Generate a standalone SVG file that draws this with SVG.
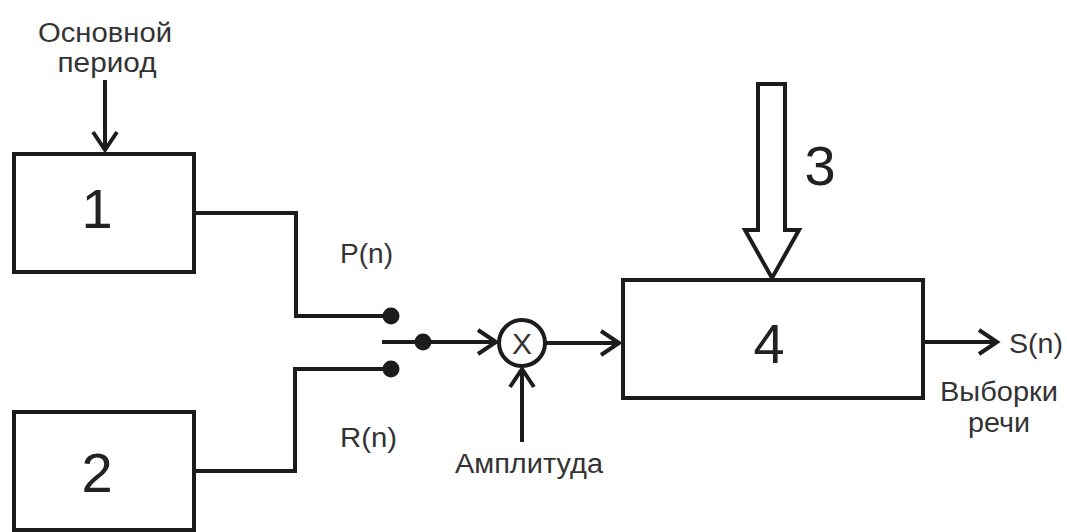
<svg xmlns="http://www.w3.org/2000/svg" width="1067" height="532" viewBox="0 0 1067 532">
<style>
.ln{fill:none;stroke:#1c1c1c;stroke-width:4;stroke-linejoin:miter}
.box{fill:#fff;stroke:#1c1c1c;stroke-width:4}
.lbl{font-family:"Liberation Sans",Arial,sans-serif;font-size:27px;fill:#333}
.num{font-family:"Liberation Sans",Arial,sans-serif;font-size:56px;fill:#222;text-anchor:middle}
.dot{fill:#1c1c1c}
</style>
<defs>
<marker id="ah" markerUnits="userSpaceOnUse" viewBox="-22 -16 26 32" refX="0" refY="0" markerWidth="26" markerHeight="32" orient="auto" overflow="visible">
<path d="M-18,-12 L0,0 L-18,12" fill="none" stroke="#1c1c1c" stroke-width="4"/>
</marker>
</defs>
<rect width="1067" height="532" fill="#fff"/>
<g id="connectors">
<path class="ln" d="M105,80 V150" marker-end="url(#ah)"/>
<path class="ln" d="M193,213 H296 V316 H391"/>
<path class="ln" d="M193,471 H295 V369 H391"/>
<path class="ln" d="M382,342 H496" marker-end="url(#ah)"/>
<path class="ln" d="M545,343 H619" marker-end="url(#ah)"/>
<path class="ln" d="M522,442 V369" marker-end="url(#ah)"/>
<path class="ln" d="M923,342 H997" marker-end="url(#ah)"/>
<circle class="dot" cx="391" cy="316" r="8.5"/>
<circle class="dot" cx="391" cy="369" r="8.5"/>
<circle class="dot" cx="423" cy="342" r="8.5"/>
</g>
<g id="input-period">
<text class="lbl" x="105" y="42" text-anchor="middle" textLength="134" lengthAdjust="spacingAndGlyphs">Основной</text>
<text class="lbl" x="107" y="72" text-anchor="middle" textLength="99" lengthAdjust="spacingAndGlyphs">период</text>
</g>
<g id="node1">
<rect class="box" x="14" y="154" width="180" height="118"/>
<text class="num" x="97" y="228">1</text>
</g>
<g id="node2">
<rect class="box" x="14" y="412" width="180" height="118"/>
<text class="num" x="97" y="492">2</text>
</g>
<g id="labels">
<text class="lbl" x="340" y="263" textLength="53" lengthAdjust="spacingAndGlyphs">P(n)</text>
<text class="lbl" x="340" y="447" textLength="57" lengthAdjust="spacingAndGlyphs">R(n)</text>
<text class="lbl" x="529" y="473" text-anchor="middle" textLength="148" lengthAdjust="spacingAndGlyphs">Амплитуда</text>
<text class="lbl" x="1009" y="353" textLength="54" lengthAdjust="spacingAndGlyphs">S(n)</text>
<text class="lbl" x="999" y="401" text-anchor="middle" textLength="118" lengthAdjust="spacingAndGlyphs">Выборки</text>
<text class="lbl" x="999" y="432" text-anchor="middle" textLength="62" lengthAdjust="spacingAndGlyphs">речи</text>
</g>
<g id="multiplier">
<circle cx="522" cy="343" r="23" fill="#fff" stroke="#1c1c1c" stroke-width="4"/>
<text x="522" y="354" text-anchor="middle" style="font-family:'Liberation Sans',Arial,sans-serif;font-size:30px;fill:#333">X</text>
</g>
<g id="node3">
<polygon class="box" points="758,84 785,84 785,230 799,230 772,278 745,230 758,230"/>
<text class="num" x="820" y="185">3</text>
</g>
<g id="node4">
<rect class="box" x="623" y="280" width="300" height="118"/>
<text class="num" x="769" y="363">4</text>
</g>
</svg>
